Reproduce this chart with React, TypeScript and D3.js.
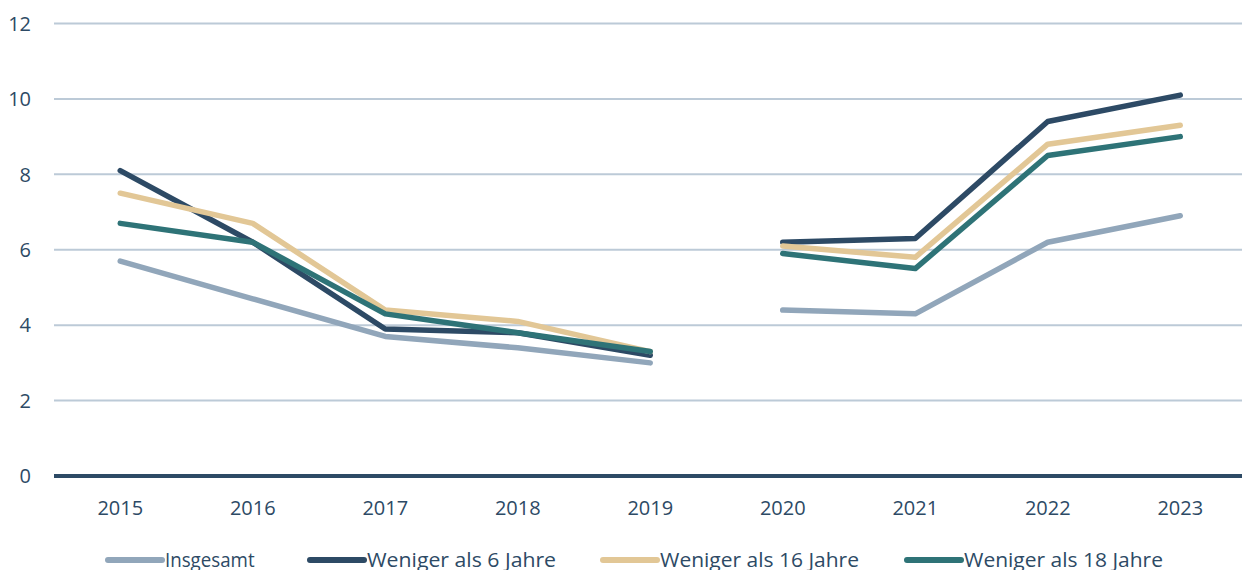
import React from "react";
import * as d3 from "d3";

const years = ["2015", "2016", "2017", "2018", "2019", "2020", "2021", "2022", "2023"];
const insgesamt = [5.7, 4.7, 3.7, 3.4, 3.0, 4.4, 4.3, 6.2, 6.9];
const unter6 = [8.1, 6.2, 3.9, 3.8, 3.2, 6.2, 6.3, 9.4, 10.1];
const unter16 = [7.5, 6.7, 4.4, 4.1, 3.3, 6.1, 5.8, 8.8, 9.3];
const unter18 = [6.7, 6.2, 4.3, 3.8, 3.3, 5.9, 5.5, 8.5, 9.0];
const yTicks = [0, 2, 4, 6, 8, 10, 12];
const seriesNames = ["Insgesamt", "Weniger als 6 Jahre", "Weniger als 16 Jahre", "Weniger als 18 Jahre"];
// gap between 2019 and 2020
const segments = [years.slice(0, 5), years.slice(5)];

const colors = ["#91A6BA", "#2D4A65", "#E2C796", "#2E7377"];
const textColor = "#2D4A65";
const font = "'Open Sans', sans-serif";

export default function App() {
  const W = 1242, H = 570;
  const x = d3.scaleBand<string>().domain(years).range([54, 1246.5]);
  const y = d3.scaleLinear().domain([0, 12]).range([476, 23.5]);
  const data = [insgesamt, unter6, unter16, unter18];
  const line = d3
    .line<[string, number]>()
    .x((d) => (x(d[0]) as number) + x.bandwidth() / 2)
    .y((d) => y(d[1]));
  const legendX = [108, 310, 603, 907];
  return (
    <svg width={W} height={H} style={{ position: "absolute", left: 0, top: 0 }}>
      <rect width={W} height={H} fill="#fff" />
      {yTicks.filter((t) => t > 0).map((t) => (
        <line key={t} x1={54} x2={W} y1={y(t)} y2={y(t)} stroke="#BCCAD7" strokeWidth={2} />
      ))}
      {yTicks.map((t) => (
        <text key={t} x={31} y={y(t)} dy="0.36em" textAnchor="end" fontFamily={font} fontSize={20} fill={textColor}>
          {t}
        </text>
      ))}
      {data.map((vals, i) =>
        segments.map((seg, j) => {
          const pts = seg.map((yr) => [yr, vals[years.indexOf(yr)]] as [string, number]);
          return (
            <path key={i + "-" + j} d={line(pts) || ""} fill="none" stroke={colors[i]} strokeWidth={5.5} strokeLinecap="round" strokeLinejoin="round" />
          );
        })
      )}
      <line x1={54} x2={W} y1={y(0)} y2={y(0)} stroke="#2D4A65" strokeWidth={4} />
      {years.map((yr) => (
        <text key={yr} x={(x(yr) as number) + x.bandwidth() / 2} y={515} textAnchor="middle" fontFamily={font} fontSize={20} fill={textColor}>
          {yr}
        </text>
      ))}
      {seriesNames.map((n, i) => (
        <g key={n}>
          <line x1={legendX[i]} x2={legendX[i] + 54} y1={560} y2={560} stroke={colors[i]} strokeWidth={6} strokeLinecap="round" />
          <text x={legendX[i] + 57} y={567} fontFamily={font} fontSize={20} fill={textColor} textLength={n.length * 9.95} lengthAdjust="spacingAndGlyphs">
            {n}
          </text>
        </g>
      ))}
    </svg>
  );
}
